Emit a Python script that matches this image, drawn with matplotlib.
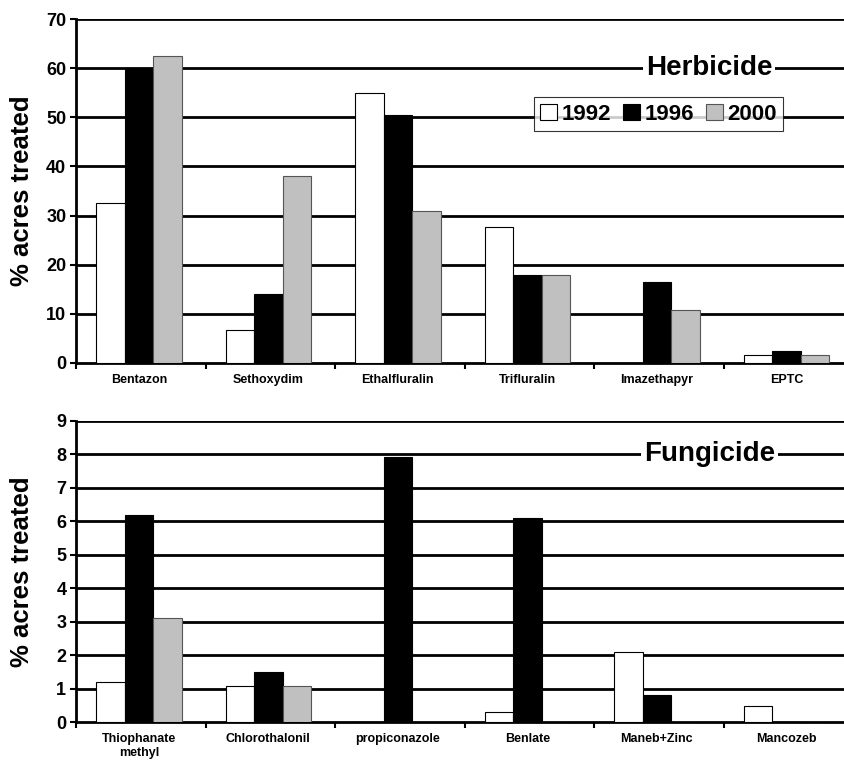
import matplotlib
matplotlib.use("Agg")
import matplotlib.pyplot as plt
import numpy as np

# --- data ------------------------------------------------------------------
years = ["1992", "1996", "2000"]
colors = ["white", "black", "#c0c0c0"]

herb_names = ["Bentazon", "Sethoxydim", "Ethalfluralin", "Trifluralin", "Imazethapyr", "EPTC"]
herb_1992 = [32.5, 6.7, 55.0, 27.7, 0.0, 1.6]
herb_1996 = [60.0, 14.0, 50.5, 18.0, 16.5, 2.4]
herb_2000 = [62.5, 38.0, 31.0, 18.0, 10.7, 1.6]

fung_names = ["Thiophanate\nmethyl", "Chlorothalonil", "propiconazole", "Benlate", "Maneb+Zinc", "Mancozeb"]
fung_1992 = [1.2, 1.07, 0.0, 0.3, 2.1, 0.48]
fung_1996 = [6.2, 1.5, 7.93, 6.1, 0.8, 0.0]
fung_2000 = [3.1, 1.07, 0.0, 0.0, 0.0, 0.0]

narrow = ["Liberation Sans Narrow", "Liberation Sans", "DejaVu Sans"]
plt.rcParams["font.family"] = narrow
plt.rcParams["font.weight"] = "bold"

fig = plt.figure(figsize=(8.45, 7.61), dpi=100)
ax1 = fig.add_axes([0.09, 0.523, 0.9195, 0.452])
ax2 = fig.add_axes([0.09, 0.051, 0.9195, 0.396])


def draw(ax, names, series, ymax, label, label_y, show_legend):
    x = np.arange(len(names))
    w = 0.22
    for k, vals in enumerate(series):
        ax.bar(x + (k - 1) * w - 0.015, vals, w, color=colors[k],
               edgecolor="black" if k != 2 else "#555555", linewidth=0.8,
               zorder=3, label=years[k])
    ax.set_xlim(-0.5, len(names) - 0.5)
    ax.set_ylim(0, ymax)
    step = 10 if ymax > 10 else 1
    ticks = np.arange(0, ymax + step / 2, step)
    ax.set_yticks(ticks)
    ax.set_yticklabels([f"{t:g}" for t in ticks], fontsize=13, fontweight="bold")
    for t in ticks[1:]:
        ax.axhline(t, color="black", linewidth=2, zorder=1)
    ax.set_xticks(np.arange(-0.5, len(names) - 0.4, 1.0))
    ax.set_xticklabels([])
    ax.set_xticks(x - 0.015, minor=True)
    ax.set_xticklabels(names, minor=True, fontsize=9, fontweight="bold")
    ax.tick_params(axis="x", which="minor", length=0, pad=8)
    ax.tick_params(axis="x", which="major", length=4, width=1.5, direction="out")
    ax.tick_params(axis="y", length=4, width=1.5, direction="out", pad=3)
    for s in ["top", "right"]:
        ax.spines[s].set_visible(False)
    ax.spines["left"].set_linewidth(2)
    ax.spines["bottom"].set_linewidth(2)
    ax.set_ylabel("% acres treated", fontsize=18.5, fontweight="bold",
                  family=["Liberation Sans", "DejaVu Sans"])
    ax.yaxis.set_label_coords(-0.054, 0.5)
    ax.text(0.815, label_y, label, transform=ax.transAxes, ha="center", va="center",
            fontsize=20, fontweight="bold", zorder=4,
            family=["Liberation Sans", "DejaVu Sans"],
            bbox=dict(facecolor="white", edgecolor="none", pad=2))
    if show_legend:
        leg = ax.legend(loc="upper left", bbox_to_anchor=(0.589, 0.773), ncol=3,
                        frameon=True, fancybox=False, edgecolor="black",
                        prop={"weight": "bold", "size": 16},
                        handlelength=0.75, handleheight=0.75, handletextpad=0.2,
                        columnspacing=0.55, borderpad=0.3, borderaxespad=0)
        leg.get_frame().set_linewidth(0.8)
        leg.set_zorder(5)


draw(ax1, herb_names, [herb_1992, herb_1996, herb_2000], 70, "Herbicide", 60 / 70, True)
draw(ax2, fung_names, [fung_1992, fung_1996, fung_2000], 9, "Fungicide", 8 / 9, False)

fig.savefig("out.png", dpi=100)
